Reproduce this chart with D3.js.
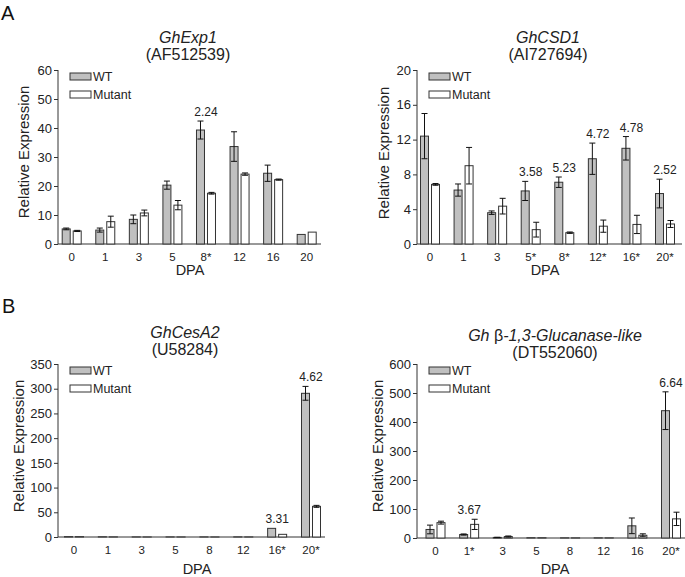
<!DOCTYPE html>
<html><head><meta charset="utf-8">
<script src="https://cdn.jsdelivr.net/npm/d3@7"></script>
<style>
body{margin:0;background:#fff;}
svg{display:block;font-family:"Liberation Sans",Arial,sans-serif;}
</style></head>
<body><svg id="c" width="685" height="577"></svg>
<script>
// ---------- data ----------
const catsExp1 = ["0","1","3","5","8*","12","16","20"];
const exp1WT = [5.2,4.8,8.5,20.3,39.3,33.6,24.4,3.3];
const exp1WTErr = [0.3,0.7,1.5,1.4,3.1,5.1,2.8,0];
const exp1Mut = [4.5,7.7,10.7,13.4,17.5,24.1,22.2,4.1];
const exp1MutErr = [0.2,1.9,1.0,1.6,0.3,0.4,0.2,0];
const exp1Fold = [{cat:"8*",text:"2.24"}];
const exp1Ticks = [0,10,20,30,40,50,60];

const catsCSD1 = ["0","1","3","5*","8*","12*","16*","20*"];
const csd1WT = [12.4,6.2,3.6,6.1,7.1,9.8,11.0,5.8];
const csd1WTErr = [2.6,0.7,0.2,1.1,0.6,1.8,1.35,1.65];
const csd1Mut = [6.85,9.0,4.35,1.65,1.3,2.05,2.25,2.3];
const csd1MutErr = [0.1,2.1,0.9,0.85,0.08,0.7,1.05,0.4];
const csd1Fold = [{cat:"5*",text:"3.58"},{cat:"8*",text:"5.23"},{cat:"12*",text:"4.72"},{cat:"16*",text:"4.78"},{cat:"20*",text:"2.52"}];
const csd1Ticks = [0,4,8,12,16,20];

const catsCesA2 = ["0","1","3","5","8","12","16*","20*"];
const cesWT = [0.8,0.5,0.2,0.2,0.2,0.3,17.5,290.7];
const cesWTErr = [0,0,0,0,0,0,0,14];
const cesMut = [0.8,0.3,0.1,0.1,0.1,0.2,5.4,62];
const cesMutErr = [0,0,0,0,0,0,0,2];
const cesFold = [{cat:"16*",text:"3.31"},{cat:"20*",text:"4.62"}];
const cesTicks = [0,50,100,150,200,250,300,350];

const catsGluc = ["0","1*","3","5","8","12","16","20*"];
const glucWT = [29.4,12,2,1,0.5,0.5,42,439];
const glucWTErr = [15,2,0.5,0,0,0,27,65];
const glucMut = [53,47,5,1,0.5,0.5,9.4,66];
const glucMutErr = [5,17.6,2,0,0,0,5,23];
const glucFold = [{cat:"1*",text:"3.67"},{cat:"20*",text:"6.64"}];
const glucTicks = [0,100,200,300,400,500,600];

const seriesNames = ["WT","Mutant"];

// ---------- drawing ----------
const svg = d3.select("#c");
const TXT = "#222";
const GRAY = "#c0c0c0";
const EDGE = "#333";

function drawPanel(p){
  const g = svg.append("g");
  const step = (p.cLast - p.cFirst)/(p.cats.length-1);
  const x = d3.scaleBand().domain(p.cats)
      .range([p.cFirst - step/2, p.cLast + step/2]);
  const y = d3.scaleLinear().domain([0, p.ticks[p.ticks.length-1]]).range([p.bottom, p.top]);
  const bw = 8, gap = 1.5;

  // y axis
  const ya = g.append("g").attr("transform",`translate(${p.ax},0)`)
    .call(d3.axisLeft(y).tickValues(p.ticks).tickSize(4).tickPadding(2).tickSizeOuter(0));
  ya.select(".domain").attr("stroke",EDGE).attr("d",`M0,${p.bottom}V${p.top}`);
  ya.selectAll(".tick line").attr("stroke",EDGE);
  ya.selectAll(".tick text").attr("fill",TXT).style("font-size","13px").style("font-family","Liberation Sans, Arial, sans-serif");

  // x axis
  const xa = g.append("g").attr("transform",`translate(0,${p.bottom})`)
    .call(d3.axisBottom(x).tickSize(0).tickPadding(9));
  xa.select(".domain").attr("stroke",EDGE).attr("d",`M${p.ax},0H${p.axEnd}`);
  xa.selectAll(".tick text").attr("fill",TXT).attr("dy","0.66em").style("font-size","11.5px").style("font-family","Liberation Sans, Arial, sans-serif");

  const rows = p.cats.map((c,i)=>({c, wt:p.wt[i], wte:p.wtErr[i], mu:p.mut[i], mue:p.mutErr[i]}));
  const bars = [];
  rows.forEach(r=>{
    const cx = x(r.c) + x.bandwidth()/2;
    bars.push({x:cx-gap-bw, v:r.wt, e:r.wte, fill:GRAY});
    bars.push({x:cx+gap, v:r.mu, e:r.mue, fill:"#fff"});
  });
  g.selectAll("rect.bar").data(bars).join("rect").attr("class","bar")
    .attr("x",d=>d.x).attr("width",bw)
    .attr("y",d=>y(d.v)).attr("height",d=>Math.max(0,p.bottom-y(d.v)))
    .attr("fill",d=>d.fill).attr("stroke",EDGE).attr("stroke-width",1);
  const eb = bars.filter(d=>d.e>0);
  const eg = g.selectAll("g.err").data(eb).join("g").attr("class","err")
    .attr("stroke","#111").attr("stroke-width",1).attr("fill","none");
  eg.append("line").attr("x1",d=>d.x+bw/2).attr("x2",d=>d.x+bw/2)
    .attr("y1",d=>y(d.v+d.e)).attr("y2",d=>y(Math.max(0,d.v-d.e)));
  eg.append("line").attr("x1",d=>d.x+bw/2-3).attr("x2",d=>d.x+bw/2+3)
    .attr("y1",d=>y(d.v+d.e)).attr("y2",d=>y(d.v+d.e));
  eg.append("line").attr("x1",d=>d.x+bw/2-3).attr("x2",d=>d.x+bw/2+3)
    .attr("y1",d=>y(Math.max(0,d.v-d.e))).attr("y2",d=>y(Math.max(0,d.v-d.e)));

  // fold-change labels
  g.selectAll("text.fold").data(p.fold).join("text").attr("class","fold")
    .attr("x",d=>x(d.cat)+x.bandwidth()/2)
    .attr("y",d=>{const i=p.cats.indexOf(d.cat);
      return Math.min(y(p.wt[i]+p.wtErr[i]), y(p.mut[i]+p.mutErr[i])) - 5;})
    .attr("text-anchor","middle").attr("fill",TXT).style("font-size","12px").text(d=>d.text);

  // legend
  seriesNames.forEach((n,i)=>{
    const ly = p.top + 3 + i*18;
    g.append("rect").attr("x",p.ax+12).attr("y",ly).attr("width",21).attr("height",7)
      .attr("fill",i===0?GRAY:"#fff").attr("stroke",EDGE);
    g.append("text").attr("x",p.ax+35).attr("y",ly+8).attr("fill",TXT)
      .style("font-size","12.5px").text(n);
  });

  // titles
  const t = g.append("text").attr("x",p.tx).attr("y",p.ty).attr("text-anchor","middle")
    .attr("fill",TXT).style("font-size","16px");
  p.title.forEach(s=>t.append("tspan").style("font-style",s.it?"italic":"normal").text(s.t));
  g.append("text").attr("x",p.tx).attr("y",p.ty+17).attr("text-anchor","middle")
    .attr("fill",TXT).style("font-size","16px").text(p.acc);

  // axis labels
  g.append("text").attr("transform",`translate(${p.ylx},${p.yly}) rotate(-90)`)
    .attr("text-anchor","middle").attr("fill",TXT).style("font-size","15px").text("Relative Expression");
  g.append("text").attr("x",p.dx).attr("y",p.dy).attr("text-anchor","middle")
    .attr("fill",TXT).style("font-size","14.5px").text("DPA");
}

drawPanel({cats:catsExp1, wt:exp1WT, wtErr:exp1WTErr, mut:exp1Mut, mutErr:exp1MutErr, fold:exp1Fold, ticks:exp1Ticks,
  ax:58, axEnd:321, top:70, bottom:244, cFirst:71.7, cLast:306.7,
  title:[{t:"GhExp1",it:true}], acc:"(AF512539)", tx:188, ty:43, ylx:29, yly:152, dx:190, dy:274.5});
drawPanel({cats:catsCSD1, wt:csd1WT, wtErr:csd1WTErr, mut:csd1Mut, mutErr:csd1MutErr, fold:csd1Fold, ticks:csd1Ticks,
  ax:417, axEnd:682, top:70, bottom:244, cFirst:430, cLast:665,
  title:[{t:"GhCSD1",it:true}], acc:"(AI727694)", tx:548, ty:43, ylx:389, yly:153, dx:545, dy:274.5});
drawPanel({cats:catsCesA2, wt:cesWT, wtErr:cesWTErr, mut:cesMut, mutErr:cesMutErr, fold:cesFold, ticks:cesTicks,
  ax:58, axEnd:325, top:364, bottom:537, cFirst:74, cLast:311,
  title:[{t:"GhCesA2",it:true}], acc:"(U58284)", tx:185, ty:338, ylx:24, yly:446, dx:197, dy:573.5});
drawPanel({cats:catsGluc, wt:glucWT, wtErr:glucWTErr, mut:glucMut, mutErr:glucMutErr, fold:glucFold, ticks:glucTicks,
  ax:417, axEnd:685, top:364, bottom:538, cFirst:435.5, cLast:671,
  title:[{t:"Gh ",it:true},{t:"β",it:false},{t:"-1,3-Glucanase-like",it:true}], acc:"(DT552060)", tx:555, ty:341, ylx:383, yly:446, dx:555, dy:573.5});

// panel letters
svg.append("text").attr("x",1).attr("y",20).attr("fill","#111").style("font-size","20px").text("A");
svg.append("text").attr("x",2).attr("y",313).attr("fill","#111").style("font-size","20px").text("B");
</script></body></html>
